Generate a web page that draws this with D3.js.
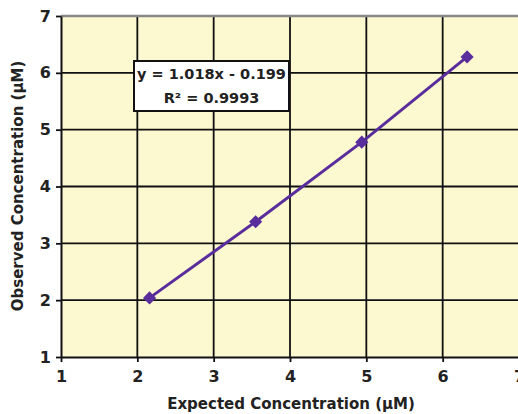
<!DOCTYPE html>
<html>
<head>
<meta charset="utf-8">
<script src="https://cdn.jsdelivr.net/npm/d3@7"></script>
<style>
  body { margin: 0; background: #fff; }
  text { font-family: "DejaVu Sans", sans-serif; font-weight: bold; fill: #222; }
</style>
</head>
<body>
<div id="chart"></div>
<script>
// data
var expected = [2.16, 3.55, 4.94, 6.32];
var observed = [2.04, 3.38, 4.78, 6.28];
var ticks = [1, 2, 3, 4, 5, 6, 7];
var equation = ['y = 1.018x - 0.199', 'R\u00b2 = 0.9993'];

var width = 518, height = 414;
var marginLeft = 61, marginTop = 16, plotW = 458, plotH = 341;

var svg = d3.select('#chart').append('svg')
  .attr('width', width)
  .attr('height', height);

var x = d3.scaleLinear().domain([1, 7]).range([marginLeft, marginLeft + plotW]);
var y = d3.scaleLinear().domain([1, 7]).range([marginTop + plotH, marginTop]);

// plot background
svg.append('rect')
  .attr('x', x(1)).attr('y', y(7))
  .attr('width', x(7) - x(1)).attr('height', y(1) - y(7))
  .attr('fill', '#fcf8d0');

// grid
svg.append('g').selectAll('line')
  .data(ticks.slice(1))
  .enter().append('line')
  .attr('x1', d => x(d)).attr('x2', d => x(d))
  .attr('y1', y(7)).attr('y2', y(1))
  .attr('stroke', '#111').attr('stroke-width', 1.8);

svg.append('g').selectAll('line')
  .data(ticks.slice(1, -1))
  .enter().append('line')
  .attr('x1', x(1)).attr('x2', x(7))
  .attr('y1', d => y(d)).attr('y2', d => y(d))
  .attr('stroke', '#111').attr('stroke-width', 1.8);

// top border
svg.append('line')
  .attr('x1', x(1)).attr('x2', x(7))
  .attr('y1', y(7)).attr('y2', y(7))
  .attr('stroke', '#888').attr('stroke-width', 2.5);

// axes
var xAxis = svg.append('g')
  .attr('transform', 'translate(0,' + y(1) + ')')
  .call(d3.axisBottom(x).tickValues(ticks).tickSize(5).tickSizeOuter(0).tickFormat(d3.format('d')));
var yAxis = svg.append('g')
  .attr('transform', 'translate(' + x(1) + ',0)')
  .call(d3.axisLeft(y).tickValues(ticks).tickSize(5).tickSizeOuter(0).tickFormat(d3.format('d')));

[xAxis, yAxis].forEach(function (a) {
  a.select('.domain').attr('stroke', '#111').attr('stroke-width', 2);
  a.selectAll('.tick line').attr('stroke', '#111').attr('stroke-width', 1.8);
  a.selectAll('.tick text').style('font-size', '16px').attr('fill', '#222');
});
xAxis.selectAll('.tick text').attr('dy', '1.05em');
yAxis.selectAll('.tick text').attr('x', -10);

// series
var pts = expected.map((d, i) => [d, observed[i]]);
svg.append('path')
  .datum(pts)
  .attr('fill', 'none')
  .attr('stroke', '#5a2d9c')
  .attr('stroke-width', 3)
  .attr('d', d3.line().x(d => x(d[0])).y(d => y(d[1])));

svg.append('g').selectAll('path')
  .data(pts)
  .enter().append('path')
  .attr('transform', d => 'translate(' + x(d[0]) + ',' + y(d[1]) + ')')
  .attr('d', d3.symbol().type(d3.symbolDiamond2).size(110))
  .attr('fill', '#5a2d9c');

// equation box
var bx = 134, by = 61, bw = 155, bh = 50;
svg.append('rect')
  .attr('x', bx).attr('y', by).attr('width', bw).attr('height', bh)
  .attr('fill', '#fff').attr('stroke', '#111').attr('stroke-width', 2);
svg.append('g').selectAll('text')
  .data(equation)
  .enter().append('text')
  .attr('x', bx + bw / 2)
  .attr('y', (d, i) => by + 18 + i * 24)
  .attr('text-anchor', 'middle')
  .style('font-size', '14.5px')
  .text(d => d);

// axis titles
svg.append('text')
  .attr('x', 291).attr('y', 409)
  .attr('text-anchor', 'middle')
  .style('font-size', '15px')
  .text('Expected Concentration (\u00b5M)');

svg.append('text')
  .attr('transform', 'translate(23,186) rotate(-90)')
  .attr('text-anchor', 'middle')
  .style('font-size', '15px')
  .text('Observed Concentration (\u00b5M)');
</script>
</body>
</html>
